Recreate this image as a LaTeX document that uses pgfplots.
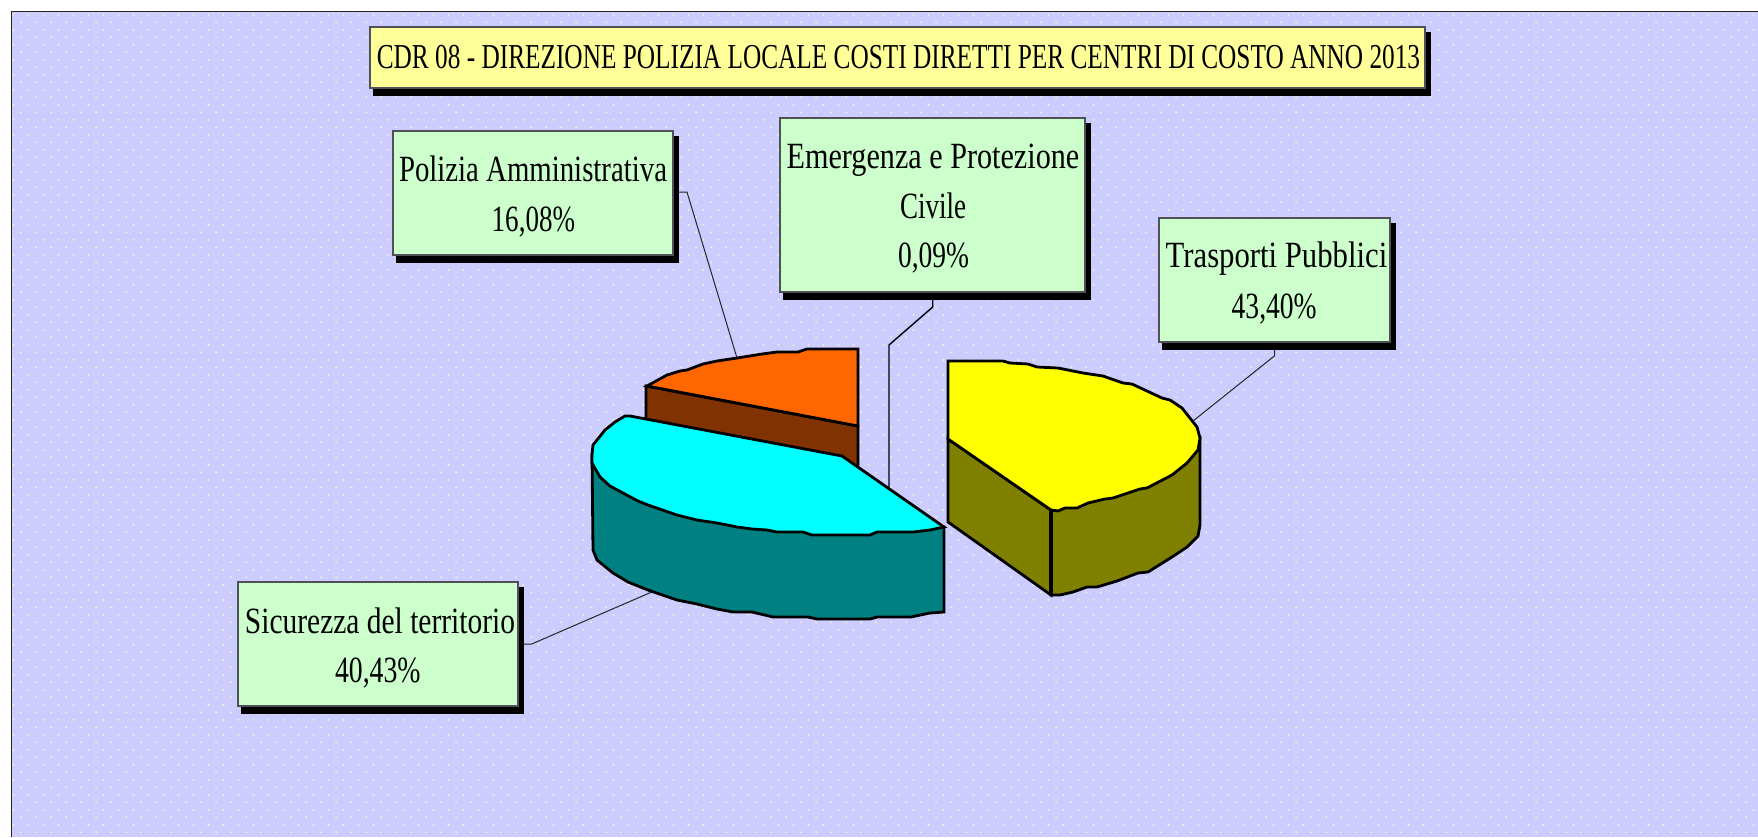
\documentclass[border=0pt]{standalone}
\usepackage{fontspec}
\setmainfont{Liberation Serif}
\usepackage{graphicx}
\usepackage{pgfplots}
\usetikzlibrary{patterns}
\pgfplotsset{compat=1.18}

\definecolor{bgblue}{HTML}{CCCCFF}
\definecolor{bgdot}{HTML}{F6F8CC}
\definecolor{titlefill}{HTML}{FFFF99}
\definecolor{boxfill}{HTML}{CCFFCC}
\definecolor{boxline}{HTML}{505058}
\definecolor{orangetop}{HTML}{FF6600}
\definecolor{orangeside}{HTML}{803300}
\definecolor{cyantop}{HTML}{00FFFF}
\definecolor{cyanside}{HTML}{008080}
\definecolor{yellowtop}{HTML}{FFFF00}
\definecolor{yellowside}{HTML}{808000}

% dotted chart background, two dots per tile
\pgfdeclarepatternformonly{bgdots}{\pgfqpoint{0pt}{0pt}}{\pgfqpoint{7.688pt}{7.688pt}}{\pgfqpoint{7.688pt}{7.688pt}}{%
  \pgfpathcircle{\pgfqpoint{3.16pt}{3.0pt}}{0.55pt}%
  \pgfpathcircle{\pgfqpoint{7.0pt}{6.84pt}}{0.55pt}%
  \pgfusepath{fill}}

% box with drop shadow: x0, y0, x1, y1, fill
\newcommand{\shadowbox}[5]{%
  \addplot[fill=black, draw=none] coordinates {(#1+3,#2+5) (#3+6,#2+5) (#3+6,#4+8) (#1+3,#4+8)} --cycle;
  \addplot[fill=#5, draw=boxline, line width=0.6pt] coordinates {(#1,#2) (#3,#2) (#3,#4) (#1,#4)} --cycle;
}
% text line: centre x, baseline y, width in pt, font size, text
\newcommand{\txt}[5]{%
  \node[anchor=base, inner sep=0pt, text=black] at (axis cs:#1,#2)
    {\resizebox{#3pt}{\height}{\fontsize{#4}{#4}\selectfont #5}};
}

\begin{document}
\begin{tikzpicture}
\begin{axis}[
    scale only axis,
    width=879pt,
    height=418.5pt,
    xmin=0, xmax=1758,
    ymin=0, ymax=837,
    y dir=reverse,
    hide axis,
    clip=true,
]

% white page margin, background and frame
\addplot[fill=white, draw=none] coordinates {(0,0) (1758,0) (1758,837) (0,837)} --cycle;
\addplot[fill=bgblue, draw=none] coordinates {(11.5,11.5) (1758,11.5) (1758,837) (11.5,837)} --cycle;
\addplot[pattern=bgdots, pattern color=bgdot, draw=none] coordinates {(12,12) (1758,12) (1758,837) (12,837)} --cycle;
\addplot[draw=black!85, line width=0.7pt] coordinates {(11.5,837) (11.5,11.5) (1758,11.5)};

% leader lines
\addplot[draw=black!85, line width=0.5pt] coordinates {(673,192) (687,192) (737,358)};
\addplot[draw=black, line width=0.7pt] coordinates {(932.7,292) (932.7,307) (889,345) (889,490)};
\addplot[draw=black!85, line width=0.5pt] coordinates {(1274.7,342) (1274.7,355.7) (1193,421)};
\addplot[draw=black!85, line width=0.5pt] coordinates {(518,644) (531.7,644) (654,591)};

% Polizia Amministrativa slice
\addplot[fill=orangeside, draw=black, line width=1.4pt] coordinates {
  (646,386) (858,426) (858,480) (646,440)} --cycle;
\addplot[fill=orangetop, draw=black, line width=1.4pt] coordinates {
  (647,386) (667,375) (680,371) (687,370) (703,364) (717,361) (737,358)
  (762,354) (777,352) (798,352) (807,349) (858,349) (858,426)} --cycle;

% Sicurezza del territorio slice
\addplot[fill=cyanside, draw=black, line width=1.4pt] coordinates {
  (592,455) (593,550) (597,560) (613,573) (628,582) (648,590) (677,600)
  (697,604) (717,609) (733,612) (752,612) (773,617) (808,617) (817,619)
  (870,619) (877,617) (911,617) (930,613) (944,612) (944,527)} --cycle;
\addplot[fill=cyantop, draw=black, line width=1.4pt] coordinates {
  (592,463) (592,455) (593,445) (605,430) (615,422) (625,416) (630,416)
  (842,456) (944,527) (930,530) (913,532) (877,532) (870,535) (812,535)
  (803,532) (777,532) (767,530) (752,529) (737,527) (717,523) (697,520)
  (677,515) (648,505) (638,501) (610,486) (600,477)} --cycle;

% Trasporti Pubblici slice
\addplot[fill=yellowside, draw=black, line width=1.4pt] coordinates {
  (948,439) (1051,510) (1051,595) (948,522)} --cycle;
\addplot[fill=yellowside, draw=black, line width=1.4pt] coordinates {
  (1051,510) (1051,595) (1060,595) (1073,592) (1087,587) (1097,587) (1117,581)
  (1138,573) (1148,572) (1172,557) (1187,547) (1198,536) (1200,525) (1200,438)} --cycle;
\addplot[fill=yellowtop, draw=black, line width=1.4pt] coordinates {
  (948,361) (1003,361) (1010,363) (1028,364) (1037,367) (1058,368) (1083,373)
  (1103,376) (1123,383) (1132,384) (1162,398) (1170,400) (1182,408) (1197,427)
  (1200,438) (1198,450) (1187,463) (1172,475) (1147,488) (1140,489) (1113,498)
  (1105,499) (1088,503) (1077,508) (1065,508) (1058,511) (1051,510) (948,439)} --cycle;
\addplot[draw=black, line width=2pt] coordinates {(1051,510) (1051,595)};

% title and label boxes
\shadowbox{370}{27}{1425}{88}{titlefill}
\shadowbox{393}{131}{673}{255}{boxfill}
\shadowbox{780}{118}{1085}{292}{boxfill}
\shadowbox{1159}{218}{1390}{342}{boxfill}
\shadowbox{238}{582}{518}{706}{boxfill}

\txt{898.5}{68.3}{521.7}{17.5}{CDR 08 - DIREZIONE POLIZIA LOCALE COSTI DIRETTI PER CENTRI DI COSTO ANNO 2013}
\txt{533}{181}{134}{18.5}{Polizia Amministrativa}
\txt{533.4}{231}{41.7}{18.5}{16,08\%}
\txt{933}{168}{146.3}{18.5}{Emergenza e Protezione}
\txt{933}{218}{33}{18.5}{Civile}
\txt{933.5}{267.7}{35.5}{18.5}{0,09\%}
\txt{1276.5}{267.7}{110.8}{18.5}{Trasporti Pubblici}
\txt{1274.2}{318.3}{42.5}{18.5}{43,40\%}
\txt{380}{633.3}{135}{18.5}{Sicurezza del territorio}
\txt{377.8}{682.7}{42.8}{18.5}{40,43\%}

\end{axis}
\end{tikzpicture}
\end{document}
